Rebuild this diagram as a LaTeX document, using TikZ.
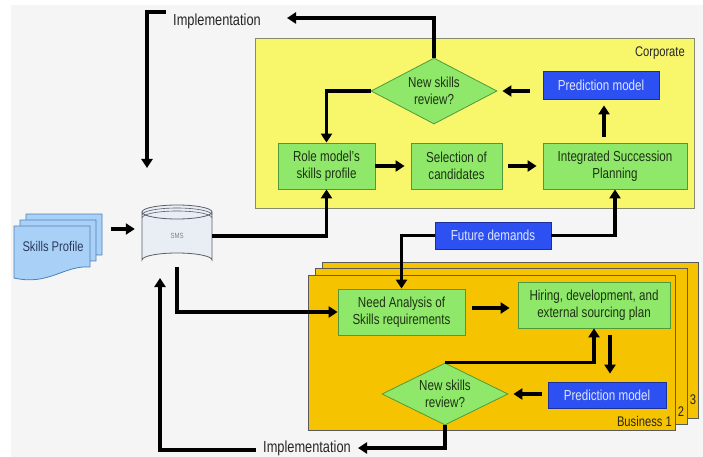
\documentclass[tikz,border=0pt]{standalone}
\usepackage{fontspec}
\setmainfont{Liberation Sans}[FakeStretch=0.8]
\usetikzlibrary{arrows.meta,shapes.geometric,calc}
\definecolor{bgc}{HTML}{F5F5F5}
\definecolor{corpfill}{HTML}{F8F76C}
\definecolor{corpdraw}{HTML}{8A8A70}
\definecolor{cardfill}{HTML}{F5C300}
\definecolor{carddraw}{HTML}{5A5A5A}
\definecolor{gfill}{HTML}{8FE86A}
\definecolor{gdraw}{HTML}{4F9A3A}
\definecolor{gtext}{HTML}{1E3214}
\definecolor{bfill}{HTML}{2D50F2}
\definecolor{bdraw}{HTML}{1C2F9A}
\definecolor{btext}{HTML}{DFE6FF}
\definecolor{docfill}{HTML}{A9D1F7}
\definecolor{docdraw}{HTML}{4F7FB8}
\definecolor{doctext}{HTML}{2A3A5A}
\definecolor{cylfill}{HTML}{E9EEF5}
\definecolor{cyldraw}{HTML}{5A6068}
\begin{document}
\begin{tikzpicture}[x=1pt,y=-1pt,
  conn/.style={line width=3.5pt,-{Triangle[length=9pt,width=11pt]}},
  gbox/.style={draw=gdraw,fill=gfill,line width=0.8pt,text=gtext,align=center,inner sep=0pt,font=\fontsize{14.5}{17}\selectfont},
  bbox/.style={draw=bdraw,fill=bfill,line width=0.8pt,text=btext,align=center,inner sep=0pt,font=\fontsize{14.5}{17}\selectfont},
  dia/.style={gbox,diamond,aspect=1.9},
  card/.style={draw=carddraw,fill=cardfill,line width=0.8pt,inner sep=0pt},
  lbl/.style={text=black!85,inner sep=0pt,font=\fontsize{14}{16}\selectfont},
  impl/.style={text=black!85,inner sep=0pt,font=\fontsize{16}{18}\selectfont}]
\useasboundingbox (0,0) rectangle (703,457);
\fill[white] (0,0) rectangle (703,457);
\fill[bgc] (11,5) rectangle (703,457);

% Corporate panel
\node[draw=corpdraw,fill=corpfill,line width=0.8pt,minimum width=439pt,minimum height=170pt,inner sep=0pt] (corp) at (474.5,123) {};
\node[lbl,anchor=east] (corplbl) at (685,53) {Corporate};

% Business cards
\node[card,minimum width=376pt,minimum height=156pt] (b3) at (510,340) {};
\node[card,minimum width=372pt,minimum height=156pt] (b2) at (501,346) {};
\node[card,minimum width=367pt,minimum height=155pt] (b1) at (491.5,352.5) {};
\node[lbl] (n3) at (693,400) {3};
\node[lbl] (n2) at (681,412) {2};
\node[lbl,anchor=east] (bus1) at (672,421) {Business 1};

% Corporate nodes
\node[dia,minimum width=126pt,minimum height=66pt] (dcorp) at (434,91) {New skills\\review?};
\node[bbox,minimum width=116pt,minimum height=28pt] (pcorp) at (601,85) {Prediction model};
\node[gbox,minimum width=97pt,minimum height=46pt] (role) at (326.5,166) {Role model's\\skills profile};
\node[gbox,minimum width=91pt,minimum height=46pt] (sel) at (456.5,166) {Selection of\\candidates};
\node[gbox,minimum width=144pt,minimum height=46pt] (isp) at (615,166) {Integrated Succession\\Planning};

% Future demands
\node[bbox,minimum width=116pt,minimum height=27pt] (fut) at (493,235.5) {Future demands};

% Business nodes
\node[gbox,minimum width=127pt,minimum height=46pt] (need) at (401.5,312) {Need Analysis of\\Skills requirements};
\node[gbox,minimum width=152pt,minimum height=46pt] (hire) at (594,305) {Hiring, development, and\\external sourcing plan};
\node[bbox,minimum width=118pt,minimum height=26pt] (pbus) at (607,395) {Prediction model};
\node[dia,minimum width=126pt,minimum height=62pt] (dbus) at (445,394) {New skills\\review?};

% Skills profile document stack
\foreach \s in {12,6,0}{
  \draw[shift={(14+\s,226-\s)},fill=docfill,draw=docdraw,line width=0.8pt]
    (0,0) -- (76,0) -- (76,41) .. controls (50,39) and (35,60) .. (0,52) -- cycle;
}
\node[inner sep=0pt,minimum width=88pt,minimum height=65pt] (skills) at (58,246.5) {};
\node[text=doctext,inner sep=0pt,font=\fontsize{14}{16}\selectfont] (skillstxt) at (53,246) {Skills Profile};

% SMS cylinder
\fill[cylfill] (142,212) -- (142,260) arc[start angle=180,end angle=360,x radius=35,y radius=7] -- (212,212) -- cycle;
\draw[cyldraw,line width=0.8pt] (142,212) -- (142,260) arc[start angle=180,end angle=360,x radius=35,y radius=7] -- (212,212);
\draw[cyldraw,line width=0.8pt,fill=cylfill] (177,212) ellipse[x radius=35,y radius=7];
\draw[cyldraw,line width=0.6pt] (142,215) arc[start angle=180,end angle=360,x radius=35,y radius=7];
\draw[cyldraw,line width=0.6pt] (142,218) arc[start angle=180,end angle=360,x radius=35,y radius=7];
\node[inner sep=0pt,minimum width=70pt,minimum height=62pt,text=black!50,font=\fontsize{7.5}{8}\selectfont] (sms) at (177,236) {\raisebox{-3pt}{SMS}};

% Implementation labels
\node[impl] (impl1) at (217,21) {Implementation};
\node[impl] (impl2) at (307,448) {Implementation};

% Free ends
\coordinate (i1r) at (287,18);
\coordinate (i1a) at (166,12);
\coordinate (i1b) at (147,168);
\coordinate (i2r) at (358,448);
\coordinate (i2a) at (256,450);
\coordinate (i2b) at (160,278);
\coordinate (xp) at (604,0);
\coordinate (xb) at (610,0);
\coordinate (ya) at (0,308);
\coordinate (yb) at (0,229);

% Connectors
\draw[conn] (dcorp.north) |- (i1r);
\draw[conn] (i1a) -| (i1b);
\draw[conn] (dcorp.west) -| (role.north);
\draw[conn,shorten >=6pt] (role.east) -- (sel.west);
\draw[conn,shorten <=6pt,shorten >=6pt] (sel.east) -- (isp.west);
\draw[conn,shorten <=6pt,shorten >=6pt] (isp.north -| xp) -- (pcorp.south -| xp);
\draw[conn,shorten <=13pt,shorten >=5pt] (pcorp.west |- dcorp.east) -- (dcorp.east);
\draw[conn] (sms.east) -| (role.south);
\draw[conn] (sms.south) |- (need.west);
\draw[conn] (fut.west) -| (need.north);
\draw[conn] (fut.east) -| (isp.south);
\draw[conn,shorten <=7pt,shorten >=8pt] (need.east |- ya) -- (hire.west |- ya);
\draw[conn,shorten <=7pt,shorten >=8pt] (hire.south -| xb) -- (pbus.north -| xb);
\draw[conn,shorten <=6pt,shorten >=5pt] (pbus.west |- dbus.east) -- (dbus.east);
\draw[conn] (dbus.north) -| (hire.south);
\draw[conn] (dbus.south) |- (i2r);
\draw[conn] (i2a) -| (i2b);
\draw[conn,shorten <=9pt,shorten >=7pt] (skills.east |- yb) -- (sms.west |- yb);
\end{tikzpicture}
\end{document}
